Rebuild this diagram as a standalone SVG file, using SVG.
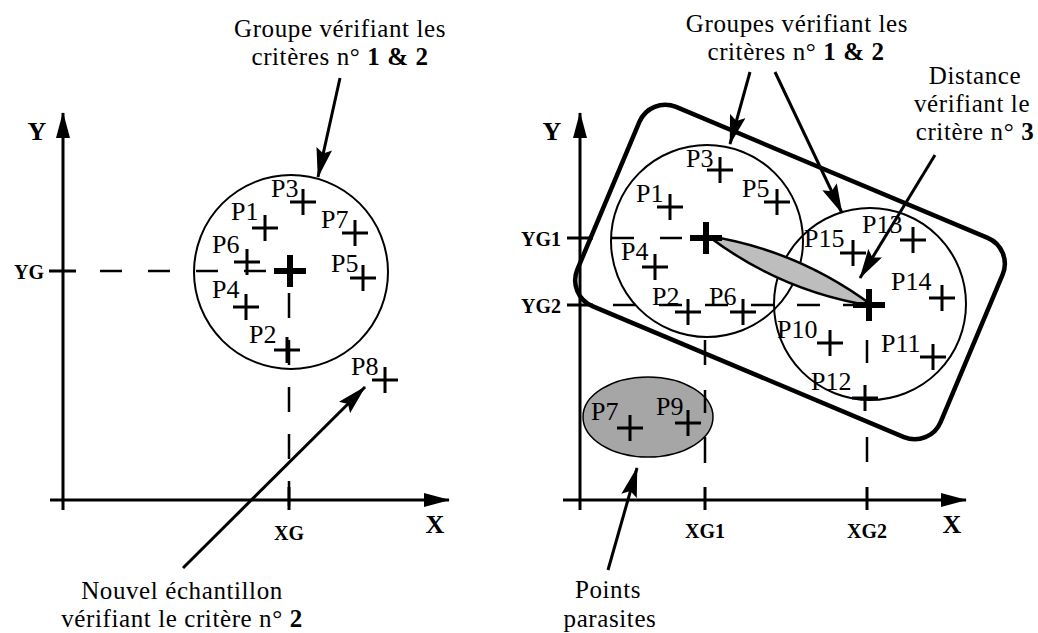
<svg xmlns="http://www.w3.org/2000/svg" xmlns:xlink="http://www.w3.org/1999/xlink" width="1038" height="633" viewBox="0 0 1038 633">
<style>
text{font-family:"Liberation Serif","Times New Roman",serif;fill:#000}
.t{font-size:25px;letter-spacing:0.6px}
.lb{font-size:26px}
.ax{font-size:26px;font-weight:bold}
.axs{font-size:20px;font-weight:bold}
.b{font-weight:bold}
.c{text-anchor:middle}
.e{text-anchor:end}
.cr{stroke:#000;stroke-width:3;fill:none}
.bc{stroke:#000;stroke-width:6;fill:none}
.axis{stroke:#000;stroke-width:3;fill:none}
.dash{stroke:#000;stroke-width:2.5;fill:none}
.circ{stroke:#000;stroke-width:2;fill:none}
.arr{stroke:#000;stroke-width:3;fill:none}
</style>
<defs>
<marker id="ah" markerUnits="userSpaceOnUse" viewBox="0 0 30 16" refX="29" refY="8" markerWidth="30" markerHeight="16" orient="auto">
<path d="M0,0 L30,8 L0,16 L5,8 Z" fill="#000"/>
</marker>
<marker id="axh" markerUnits="userSpaceOnUse" viewBox="0 0 26 14" refX="25" refY="7" markerWidth="26" markerHeight="14" orient="auto">
<path d="M0,0 L26,7 L0,14 Z" fill="#000"/>
</marker>
<path id="cr" d="M-13,0H13M0,-13V13"/>
<path id="bcr" d="M-16,0H16M0,-16V16"/>
</defs>
<rect width="1038" height="633" fill="#fff"/>

<!-- LEFT PANEL -->
<g id="left-group">
<circle class="circ" cx="291" cy="272" r="97"/>
</g>
<g id="left-guides">
<line class="dash" x1="100" y1="271" x2="268" y2="271" stroke-dasharray="22 26"/>
<line class="axis" x1="49" y1="271" x2="76" y2="271"/>
<line class="dash" x1="289" y1="293" x2="289" y2="510" stroke-dasharray="25 22"/>
<line class="axis" x1="289" y1="487" x2="289" y2="510"/>
</g>
<g id="left-axes">
<line class="axis" x1="63" y1="510" x2="63" y2="113" marker-end="url(#axh)"/>
<line class="axis" x1="50" y1="500" x2="449" y2="500" marker-end="url(#axh)"/>
<text class="ax c" x="37" y="140">Y</text>
<text class="ax c" x="435" y="533">X</text>
<text class="axs e" x="44" y="279">YG</text>
<text class="axs c" x="289" y="540">XG</text>
</g>
<g id="left-points">
<g id="L-G"><use xlink:href="#bcr" class="bc" x="290" y="271"/></g>
<g id="L-P3"><use xlink:href="#cr" class="cr" x="303" y="202"/><text class="lb" x="271" y="197">P3</text></g>
<g id="L-P1"><use xlink:href="#cr" class="cr" x="265" y="228"/><text class="lb" x="231" y="220">P1</text></g>
<g id="L-P7"><use xlink:href="#cr" class="cr" x="355" y="233"/><text class="lb" x="321" y="228">P7</text></g>
<g id="L-P6"><use xlink:href="#cr" class="cr" x="247" y="262"/><text class="lb" x="212" y="253">P6</text></g>
<g id="L-P5"><use xlink:href="#cr" class="cr" x="363" y="278"/><text class="lb" x="331" y="272">P5</text></g>
<g id="L-P4"><use xlink:href="#cr" class="cr" x="246" y="307"/><text class="lb" x="212" y="298">P4</text></g>
<g id="L-P2"><use xlink:href="#cr" class="cr" x="287" y="350"/><text class="lb" x="249" y="343">P2</text></g>
<g id="L-P8"><use xlink:href="#cr" class="cr" x="385" y="380"/><text class="lb" x="351" y="375">P8</text></g>
</g>
<g id="left-label-top">
<text class="t c" x="340" y="37">Groupe vérifiant les</text>
<text class="t c" x="340" y="65">critères n° <tspan class="b">1 &amp; 2</tspan></text>
</g>
<g id="left-label-bottom">
<text class="t c" x="182" y="599">Nouvel échantillon</text>
<text class="t c" x="182" y="627">vérifiant le critère n° <tspan class="b">2</tspan></text>
</g>

<!-- RIGHT PANEL -->
<g id="right-envelope">
<rect x="-197" y="-108" width="394" height="216" rx="28" transform="translate(790,272) rotate(22.8)" fill="none" stroke="#000" stroke-width="4.5"/>
</g>
<g id="right-group1"><circle class="circ" cx="707" cy="241" r="96"/></g>
<g id="right-group2"><circle class="circ" cx="870" cy="304" r="96"/></g>
<g id="right-parasites">
<ellipse cx="648" cy="417" rx="65" ry="40" fill="#a6a6a6" stroke="#000" stroke-width="1.5"/>
</g>
<g id="right-guides">
<line class="axis" x1="567" y1="238" x2="593" y2="238"/>
<line class="dash" x1="612" y1="238" x2="684" y2="238" stroke-dasharray="22 26"/>
<line class="axis" x1="567" y1="305" x2="593" y2="305"/>
<line class="dash" x1="613" y1="305" x2="866" y2="305" stroke-dasharray="23 23"/>
<path class="dash" d="M705,340V365M705,390V413M705,437V463"/>
<line class="axis" x1="705" y1="487" x2="705" y2="510"/>
<path class="dash" d="M867,340V363M867,437V462"/>
<line class="axis" x1="867" y1="487" x2="867" y2="510"/>
</g>
<g id="right-distance">
<path d="M708,236 Q798,250 873,306 Q782,292 708,236 Z" fill="#bdbdbd" stroke="#000" stroke-width="2.5"/>
</g>
<g id="right-axes">
<line class="axis" x1="580" y1="510" x2="580" y2="113" marker-end="url(#axh)"/>
<line class="axis" x1="563" y1="500" x2="966" y2="500" marker-end="url(#axh)"/>
<text class="ax c" x="552" y="140">Y</text>
<text class="ax c" x="952" y="533">X</text>
<text class="axs e" x="561" y="246">YG1</text>
<text class="axs e" x="561" y="313">YG2</text>
<text class="axs c" x="705" y="538">XG1</text>
<text class="axs c" x="867" y="538">XG2</text>
</g>
<g id="right-points">
<g id="R-G1"><use xlink:href="#bcr" class="bc" x="706" y="238"/></g>
<g id="R-G2"><use xlink:href="#bcr" class="bc" x="869" y="305"/></g>
<g id="R-P3"><use xlink:href="#cr" class="cr" x="720" y="170"/><text class="lb" x="686" y="167">P3</text></g>
<g id="R-P1"><use xlink:href="#cr" class="cr" x="670" y="207"/><text class="lb" x="636" y="202">P1</text></g>
<g id="R-P5"><use xlink:href="#cr" class="cr" x="777" y="202"/><text class="lb" x="742" y="197">P5</text></g>
<g id="R-P4"><use xlink:href="#cr" class="cr" x="655" y="267"/><text class="lb" x="621" y="260">P4</text></g>
<g id="R-P2"><use xlink:href="#cr" class="cr" x="688" y="312"/><text class="lb" x="652" y="305">P2</text></g>
<g id="R-P6"><use xlink:href="#cr" class="cr" x="743" y="312"/><text class="lb" x="709" y="305">P6</text></g>
<g id="R-P15"><use xlink:href="#cr" class="cr" x="853" y="253"/><text class="lb" x="804" y="247">P15</text></g>
<g id="R-P13"><use xlink:href="#cr" class="cr" x="913" y="240"/><text class="lb" x="862" y="233">P13</text></g>
<g id="R-P14"><use xlink:href="#cr" class="cr" x="942" y="298"/><text class="lb" x="891" y="290">P14</text></g>
<g id="R-P10"><use xlink:href="#cr" class="cr" x="830" y="343"/><text class="lb" x="777" y="338">P10</text></g>
<g id="R-P11"><use xlink:href="#cr" class="cr" x="933" y="357"/><text class="lb" x="881" y="352">P11</text></g>
<g id="R-P12"><use xlink:href="#cr" class="cr" x="865" y="398"/><text class="lb" x="811" y="390">P12</text></g>
<g id="R-P7"><use xlink:href="#cr" class="cr" x="630" y="428"/><text class="lb" x="591" y="420">P7</text></g>
<g id="R-P9"><use xlink:href="#cr" class="cr" x="688" y="423"/><text class="lb" x="656" y="415">P9</text></g>
</g>
<g id="right-label-groups">
<text class="t c" x="797" y="32">Groupes vérifiant les</text>
<text class="t c" x="796" y="60">critères n° <tspan class="b">1 &amp; 2</tspan></text>
</g>
<g id="right-label-distance">
<text class="t c" x="975" y="84">Distance</text>
<text class="t c" x="972" y="112">vérifiant le</text>
<text class="t c" x="975" y="140">critère n° <tspan class="b">3</tspan></text>
</g>
<g id="right-label-parasites">
<text class="t c" x="608" y="598">Points</text>
<text class="t c" x="610" y="627">parasites</text>
</g>

<!-- CONNECTORS -->
<g id="connectors">
<line class="arr" x1="340" y1="78" x2="318" y2="177" marker-end="url(#ah)"/>
<line class="arr" x1="183" y1="568" x2="365" y2="387" marker-end="url(#ah)"/>
<line class="arr" x1="750" y1="72" x2="730" y2="144" marker-end="url(#ah)"/>
<line class="arr" x1="775" y1="72" x2="842" y2="213" marker-end="url(#ah)"/>
<line class="arr" x1="935" y1="155" x2="860" y2="278" marker-end="url(#ah)"/>
<line class="arr" x1="608" y1="570" x2="637" y2="468" marker-end="url(#ah)"/>
</g>
</svg>
